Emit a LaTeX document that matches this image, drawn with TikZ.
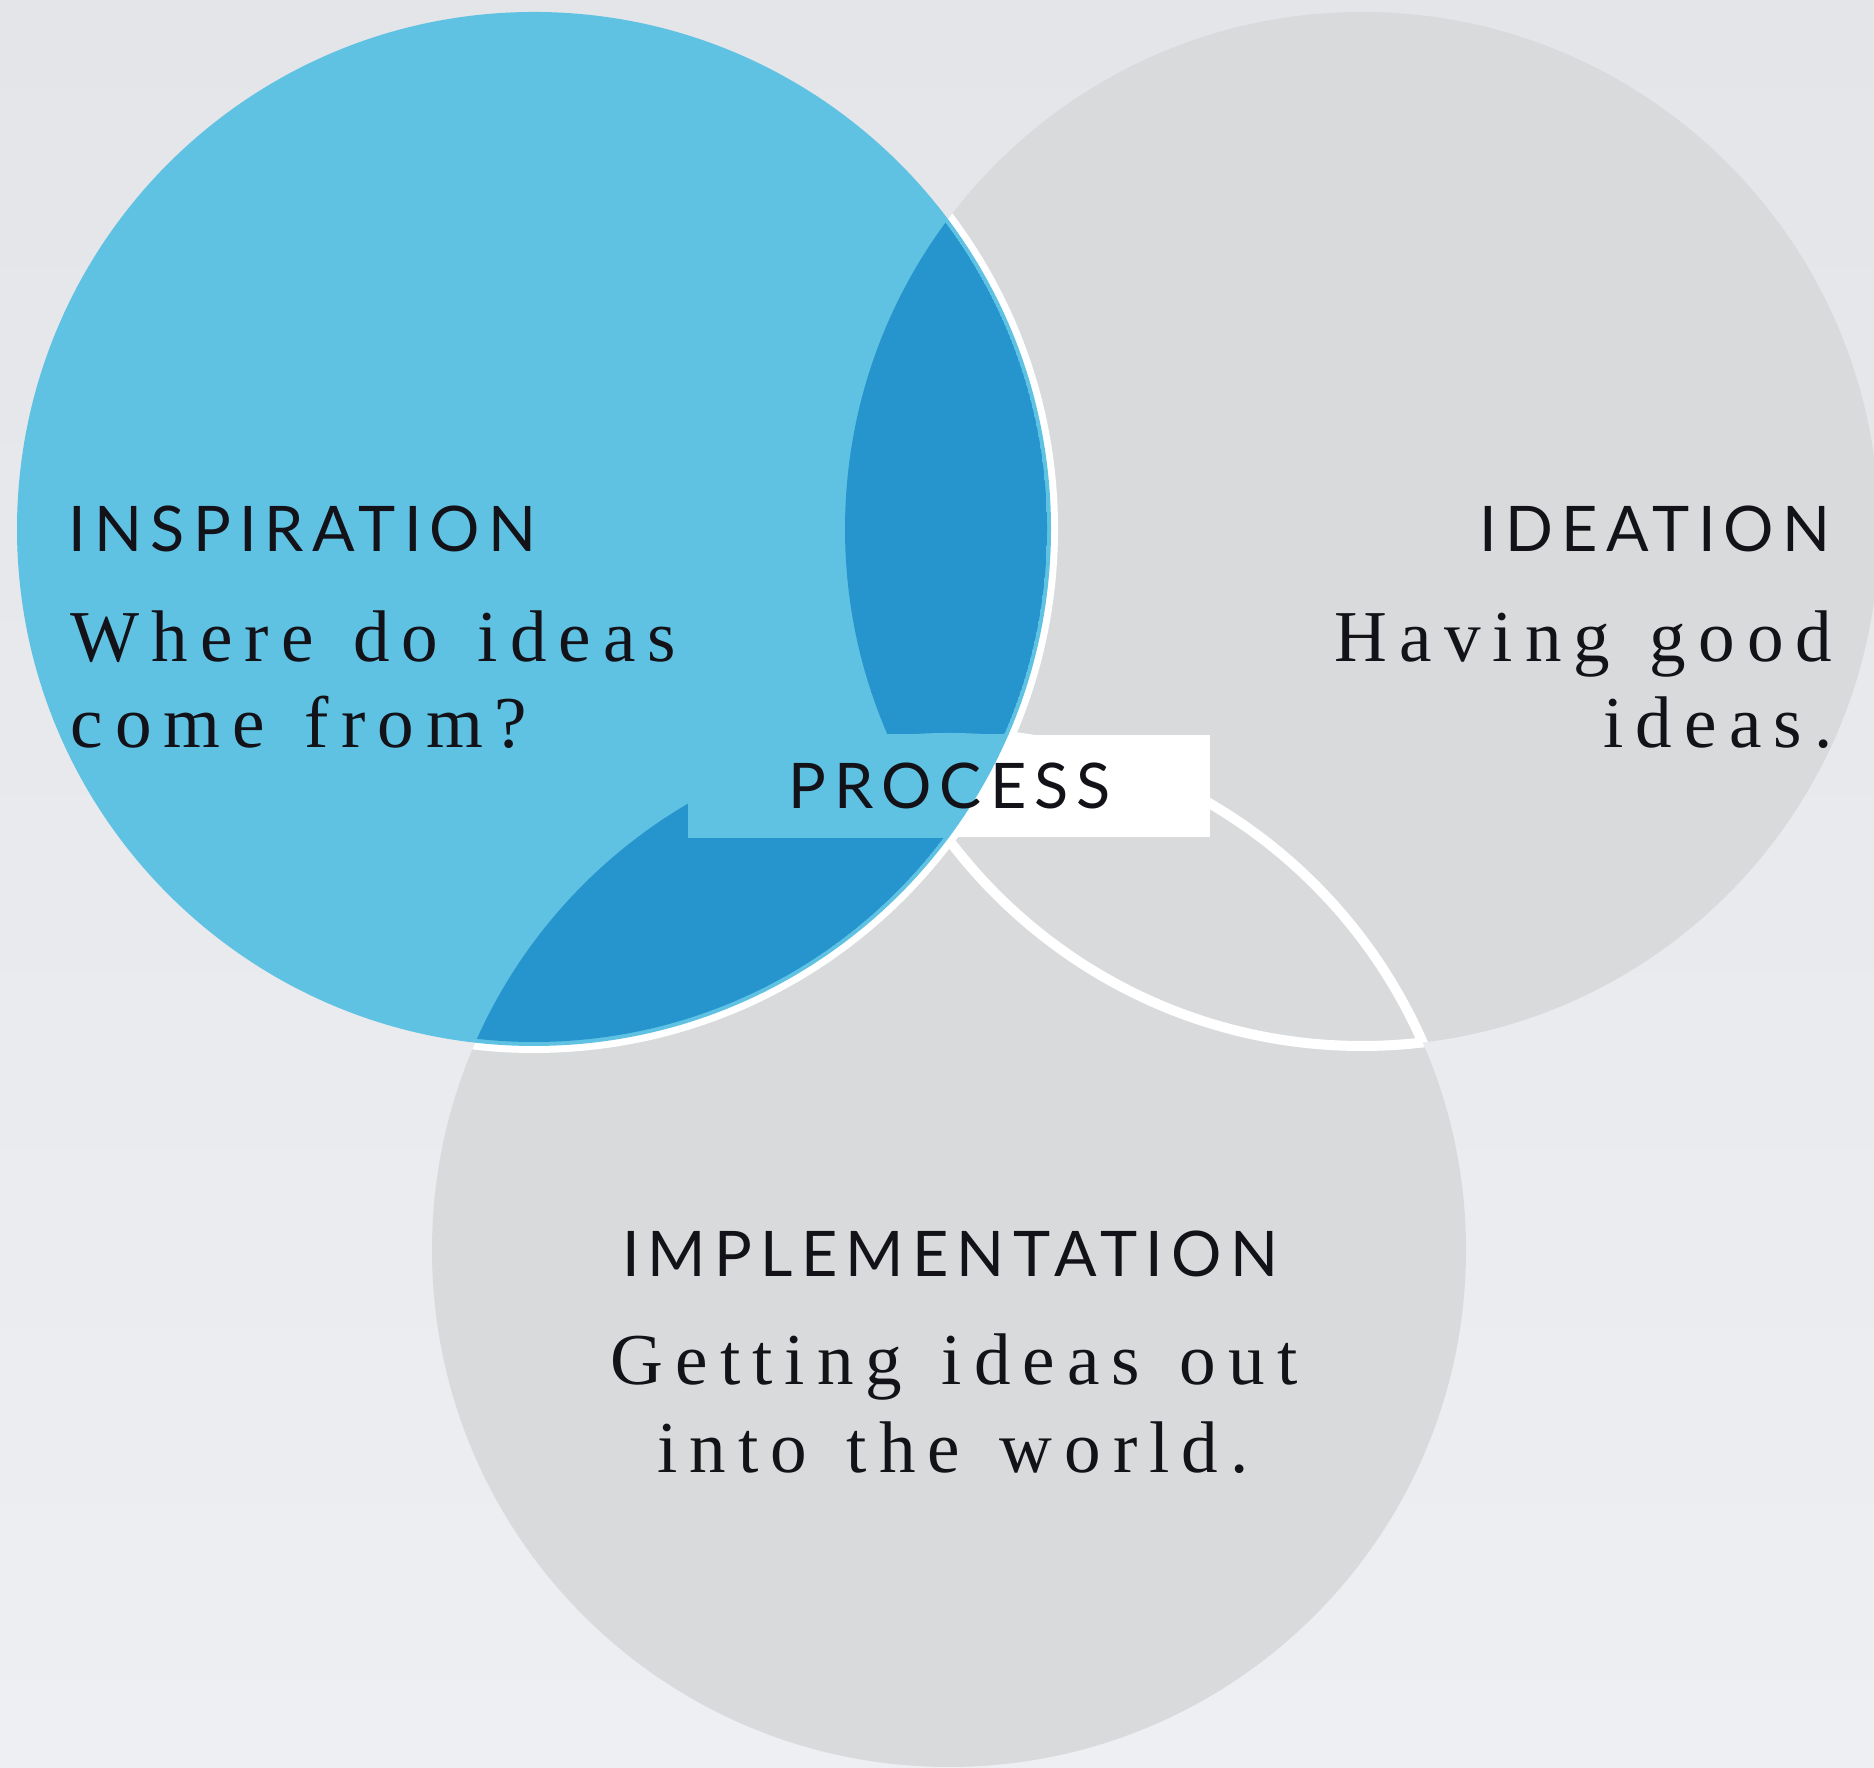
\documentclass[tikz,border=0pt]{standalone}
\usepackage{fontspec}
\usetikzlibrary{positioning}
\newfontfamily\headfont[LetterSpace=13]{Lato}
\newfontfamily\bodyfont[LetterSpace=16.5,WordSpace=1.3]{Liberation Serif}
\definecolor{bgtop}{RGB}{227,229,233}
\definecolor{bgbot}{RGB}{238,239,242}
\definecolor{circgrey}{RGB}{217,218,220}
\definecolor{insplight}{RGB}{96,194,227}
\definecolor{inspdark}{RGB}{38,149,205}
\definecolor{inktext}{RGB}{18,18,24}

\newcommand{\inspcircle}{(5.34,12.39) circle (5.17)}
\newcommand{\insprim}{(5.34,12.39) circle (5.13)}
\newcommand{\ideacircle}{(13.62,12.39) circle (5.17)}
\newcommand{\implcircle}{(9.49,5.18) circle (5.17)}

\begin{document}
\begin{tikzpicture}[
    greycirc/.style={fill=circgrey},
    lensrim/.style={draw=white, line width=1mm},
    insprimline/.style={draw=white, line width=1.4mm},
    procbox/.style={rectangle, fill=white, minimum width=5.21cm, minimum height=1.02cm, inner sep=0pt},
    headtext/.style={font=\headfont\fontsize{17.9}{21}\selectfont, text=inktext, inner sep=0pt},
    bodytext/.style={font=\bodyfont\fontsize{20.8}{24}\selectfont, text=inktext, inner sep=0pt}
]
\useasboundingbox (0,0) rectangle (18.74,17.68);
\shade[top color=bgtop, bottom color=bgbot] (0,0) rectangle (18.74,17.68);

% grey circles
\fill[greycirc] \ideacircle;
\fill[greycirc] \implcircle;

% white rims where circles overlap
\begin{scope}
  \clip \ideacircle;
  \draw[lensrim] \implcircle;
  \draw[insprimline] \inspcircle;
\end{scope}
\begin{scope}
  \clip \implcircle;
  \draw[lensrim] \ideacircle;
  \draw[insprimline] \inspcircle;
\end{scope}

% inspiration circle and its overlaps
\fill[insplight] \inspcircle;
\begin{scope}
  \clip \insprim;
  \begin{scope}
    \clip \ideacircle;
    \fill[inspdark] \insprim;
  \end{scope}
  \begin{scope}
    \clip \implcircle;
    \fill[inspdark] \insprim;
  \end{scope}
  \clip \ideacircle;
  \clip \implcircle;
  \fill[insplight] \insprim;
\end{scope}

% process box
\node[procbox] (process) at (9.495,9.82) {};
\begin{scope}
  \clip \inspcircle;
  \fill[insplight] (process.south west) rectangle (process.north east);
\end{scope}
\node[headtext] (proctext) at (process.center) {PROCESS};

% labels
\node[headtext, anchor=base west] (insphead) at (0.68,12.16) {INSPIRATION};
\node[bodytext, anchor=base west] (insplinea) at (0.70,11.06) {Where do ideas};
\node[bodytext, anchor=base west] (insplineb) at (0.70,10.20) {come from?};

\node[headtext, anchor=base east] (ideahead) at (18.31,12.16) {IDEATION};
\node[bodytext, anchor=base east] (idealinea) at (18.33,11.06) {Having good};
\node[bodytext, anchor=base east] (idealineb) at (18.33,10.20) {ideas.};

\node[headtext, anchor=base] (implhead) at (9.50,4.91) {IMPLEMENTATION};
\node[bodytext, anchor=base] (impllinea) at (9.54,3.83) {Getting ideas out};
\node[bodytext, anchor=base] (impllineb) at (9.53,2.95) {into the world.};

\end{tikzpicture}
\end{document}
